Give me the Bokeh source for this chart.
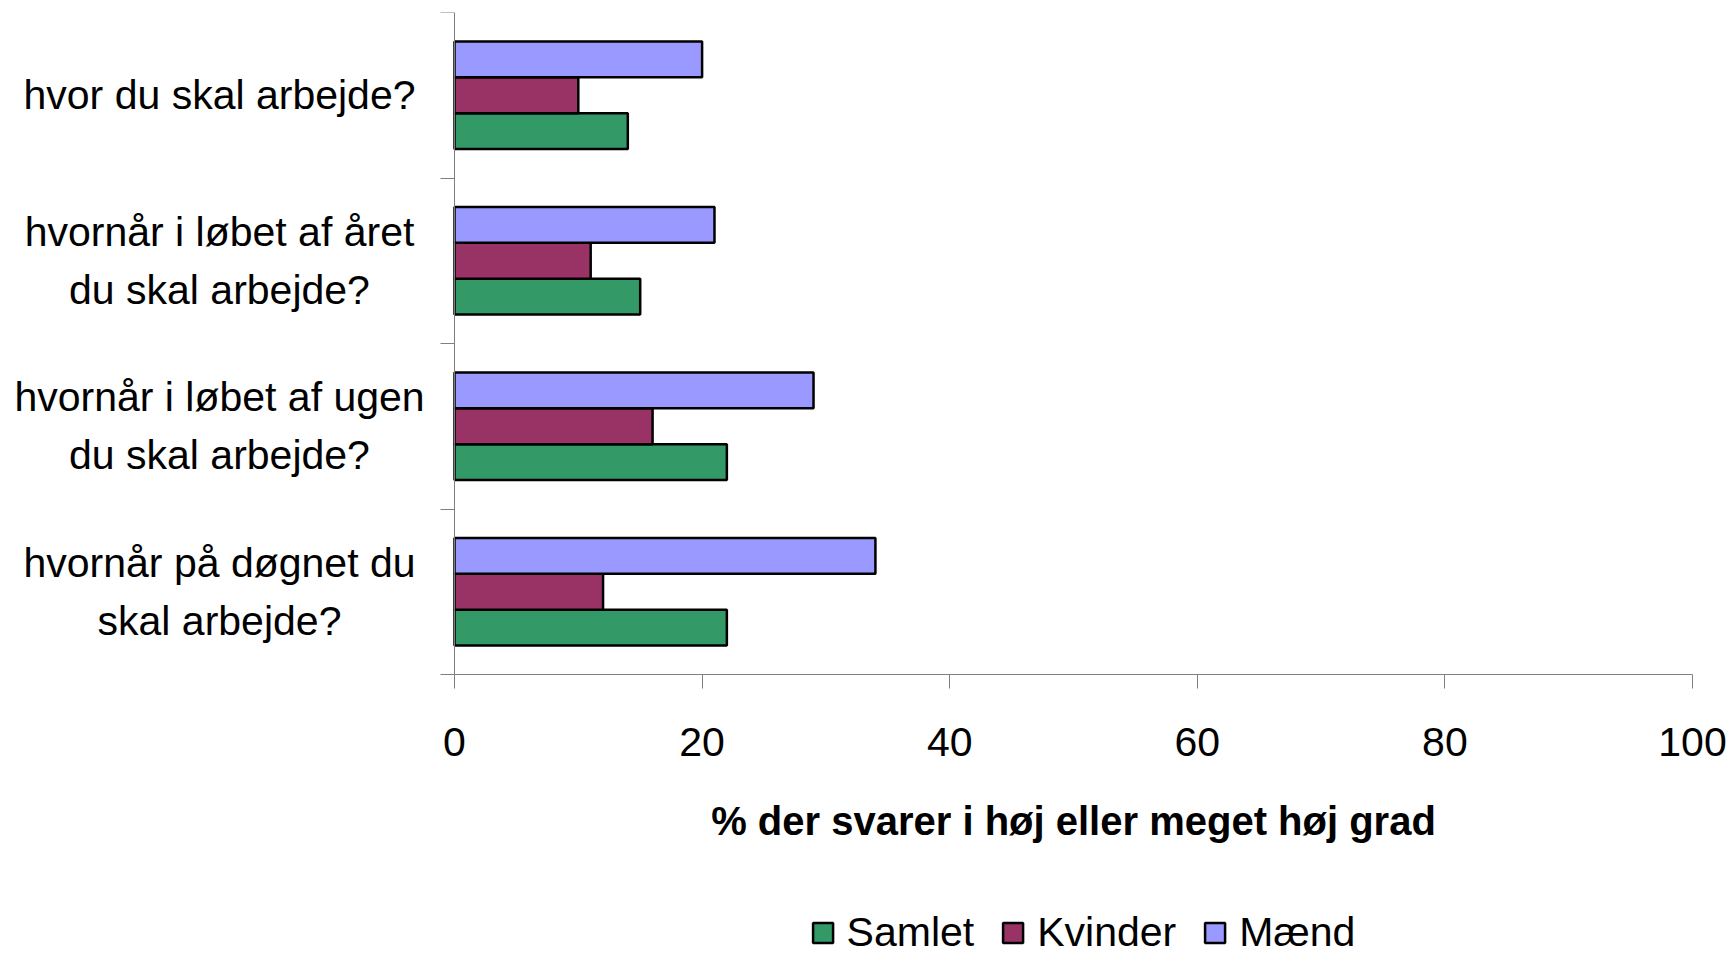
import numpy as np
from bokeh.plotting import figure
from bokeh.layouts import row
from bokeh.models import (ColumnDataSource, Range1d, LinearAxis, FixedTicker, Legend,
                          LegendItem)
from bokeh.core.properties import value
from bokeh.transform import dodge
from bokeh.embed import file_html
from bokeh.resources import INLINE

# ---- data ----
categories = [
    "hvor du skal arbejde?",
    "hvornår i løbet af året\ndu skal arbejde?",
    "hvornår i løbet af ugen\ndu skal arbejde?",
    "hvornår på døgnet du\nskal arbejde?",
]
series_names = ["Samlet", "Kvinder", "Mænd"]
samlet = [14, 15, 22, 22]
kvinder = [10, 11, 16, 12]
maend = [20, 21, 29, 34]
x_ticks = [0, 20, 40, 60, 80, 100]

colors = {"Samlet": "#339966", "Kvinder": "#993366", "Mænd": "#9999FF"}
FONT = "Liberation Sans"

# ---- layout constants (pixels) ----
LAB_W = 434        # width of the label panel
LAB_CENTER = 219   # horizontal centre of category labels
AXIS_W = 1238      # pixel length of the 0..100 axis
LEFT_PAD = 20      # frame space left of x=0
RIGHT_PAD = 39     # frame space right of x=100
BAR_H = 662        # height of the bar area
TOP = 12
BOTTOM = 283       # space below the bar area (axis labels, title, legend)

n = len(categories)
centers = n - np.arange(n) - 0.5          # first category at the top
source = ColumnDataSource(dict(yc=centers, lx=np.full(n, LAB_CENTER), cat=categories,
                               Samlet=samlet, Kvinder=kvinder, Mænd=maend))

# ---- category label panel ----
lab = figure(
    frame_width=LAB_W, frame_height=BAR_H,
    x_range=Range1d(0, LAB_W), y_range=Range1d(0, n),
    output_backend="svg", toolbar_location=None,
    x_axis_location=None, y_axis_location=None,
    min_border_left=0, min_border_right=0, min_border_top=TOP, min_border_bottom=BOTTOM,
)
lab.outline_line_color = None
lab.grid.visible = False
lab.text(x="lx", y="yc", text="cat", source=source,
         text_font=value(FONT), text_font_size="41px", text_color="black",
         text_align="center", text_baseline="middle", text_line_height=1.27)

# ---- main chart: the frame reaches the page bottom, axes sit at x=0 / y=0 ----
upx = 100.0 / AXIS_W
y_start = -BOTTOM / (BAR_H / n)
p = figure(
    frame_width=AXIS_W + LEFT_PAD + RIGHT_PAD, frame_height=BAR_H + BOTTOM,
    y_range=Range1d(y_start, n),
    x_range=Range1d(-LEFT_PAD * upx, 100 + RIGHT_PAD * upx),
    output_backend="svg", toolbar_location=None,
    x_axis_location=None, y_axis_location=None,
    min_border_left=0, min_border_right=0, min_border_top=TOP, min_border_bottom=0,
)
p.outline_line_color = None
p.grid.visible = False
p.background_fill_color = "white"

bh = 0.217
offsets = {"Mænd": bh, "Kvinder": 0.0, "Samlet": -bh}
renderers = {}
for name in series_names:
    renderers[name] = p.hbar(
        y=dodge("yc", offsets[name]), right=name, left=0,
        height=bh, source=source, fill_color=colors[name],
        line_color="black", line_width=2.5,
    )

y_axis = LinearAxis(
    fixed_location=0,
    ticker=FixedTicker(ticks=list(centers), minor_ticks=list(range(n + 1))),
    major_label_overrides={float(c): "" for c in centers},
    bounds=(0, n),
    axis_line_color="#808080",
    major_tick_line_color=None, major_tick_out=0, major_tick_in=0,
    minor_tick_line_color="#808080", minor_tick_out=14, minor_tick_in=0,
    major_label_text_font_size="1px", major_label_standoff=0,
)
p.add_layout(y_axis, "left")

x_axis = LinearAxis(
    fixed_location=0,
    bounds=(0, 100),
    ticker=FixedTicker(ticks=x_ticks),
    major_tick_out=14, major_tick_in=0,
    major_tick_line_color="#808080", axis_line_color="#808080",
    minor_tick_line_color=None,
    major_label_text_font=FONT, major_label_text_font_size="41px",
    major_label_text_color="black", major_label_standoff=39,
    axis_label="% der svarer i høj eller meget høj grad",
    axis_label_text_font=FONT, axis_label_text_font_size="40px",
    axis_label_text_font_style="bold", axis_label_text_color="black",
    axis_label_standoff=40,
)
p.add_layout(x_axis, "below")

legend = Legend(
    items=[LegendItem(label=nm, renderers=[renderers[nm]]) for nm in series_names],
    orientation="horizontal", location="bottom_center",
    label_text_font=FONT, label_text_font_size="41px", label_text_color="black",
    glyph_width=25, glyph_height=25, label_standoff=12, spacing=26,
    border_line_color=None, background_fill_alpha=0,
    margin=1, padding=0,
)
p.add_layout(legend)

layout = row(lab, p)
open("out.html", "w").write(file_html(layout, INLINE))
